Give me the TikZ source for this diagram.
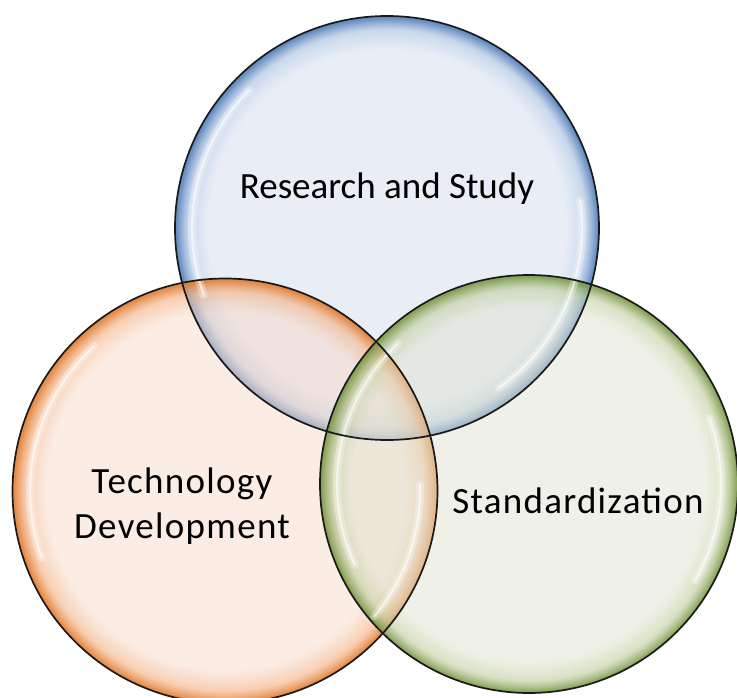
\documentclass[tikz,border=0pt]{standalone}
\usepackage{fontspec}
\usetikzlibrary{fadings}
\setmainfont{Carlito}
\newfontfamily\wideface[LetterSpace=3.5]{Carlito}
\definecolor{bIn}{HTML}{D3DDED}
\definecolor{bMid}{HTML}{A9C0E0}
\definecolor{bEdge}{HTML}{4F7DB8}
\definecolor{oIn}{HTML}{F7D9C9}
\definecolor{oMid}{HTML}{F4B284}
\definecolor{oEdge}{HTML}{E07A2C}
\definecolor{gIn}{HTML}{DFE3D1}
\definecolor{gMid}{HTML}{C1CFA0}
\definecolor{gEdge}{HTML}{7A9844}
\pgfdeclareradialshading{blueglass}{\pgfpointorigin}{color(0bp)=(bIn); color(21bp)=(bIn); color(23.4bp)=(bMid); color(24.8bp)=(bEdge); color(50bp)=(bEdge)}
\pgfdeclareradialshading{orangeglass}{\pgfpointorigin}{color(0bp)=(oIn); color(21bp)=(oIn); color(23.4bp)=(oMid); color(24.8bp)=(oEdge); color(50bp)=(oEdge)}
\pgfdeclareradialshading{greenglass}{\pgfpointorigin}{color(0bp)=(gIn); color(21bp)=(gIn); color(23.4bp)=(gMid); color(24.8bp)=(gEdge); color(50bp)=(gEdge)}
\pgfdeclareradialshading{rimmask}{\pgfpointorigin}{gray(0bp)=(0.5); gray(21bp)=(0.5); gray(23.4bp)=(0.62); gray(24.8bp)=(0.88); gray(50bp)=(0.88)}
\pgfdeclarefading{rimfade}{\pgfuseshading{rimmask}}
\tikzset{
  rim/.style={draw=black!90, line width=1.7pt},
  shine/.style={white, line width=8pt, opacity=0.3, line cap=round},
  shinecore/.style={white, line width=2.2pt, opacity=0.6, line cap=round},
  lbl/.style={font=\fontsize{37}{45}\selectfont, text=black, align=center},
  wlbl/.style={font=\wideface\fontsize{37}{45}\selectfont, text=black, align=center}
}
\begin{document}
\begin{tikzpicture}[x=1pt,y=-1pt]
\useasboundingbox (0,0) rectangle (737,698);
\clip (0,0) rectangle (737,698);
\coordinate (B) at (387,228);
\coordinate (O) at (225,491);
\coordinate (G) at (529,484);
% circles
\shade[shading=blueglass, path fading=rimfade] (B) circle[radius=212pt];
\shade[shading=orangeglass, path fading=rimfade] (O) circle[radius=212.5pt];
\shade[shading=greenglass, path fading=rimfade] (G) circle[radius=209pt];
% highlights
\foreach \s in {shine,shinecore}{
\draw[\s] (B) ++(135:195pt) arc[start angle=135, end angle=200, radius=195pt];
\draw[\s] (B) ++(8:195pt) arc[start angle=8, end angle=-55, radius=195pt];
\draw[\s] (O) ++(132:195pt) arc[start angle=132, end angle=200, radius=195pt];
\draw[\s] (O) ++(2:195pt) arc[start angle=2, end angle=-40, radius=195pt];
\draw[\s] (G) ++(133:192pt) arc[start angle=133, end angle=205, radius=192pt];
\draw[\s] (G) ++(20:192pt) arc[start angle=20, end angle=-30, radius=192pt];
}
% outlines
\draw[rim] (B) circle[radius=212pt];
\draw[rim] (O) circle[radius=212.5pt];
\draw[rim] (G) circle[radius=209pt];
% labels
\node[lbl, anchor=base] (tR) at (387,199) {Research and Study};
\node[wlbl, anchor=base] (tT) at (182,493) {Technology};
\node[wlbl, anchor=base] (tD) at (182,538) {Development};
\node[wlbl, anchor=base] (tS) at (578,513) {Standardization};
\end{tikzpicture}
\end{document}
